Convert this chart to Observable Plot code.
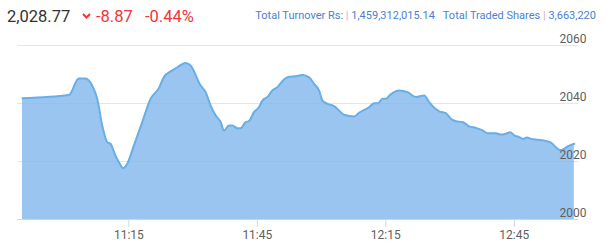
<!DOCTYPE html>
<html>
<head>
<meta charset="utf-8">
<script src="https://cdn.jsdelivr.net/npm/d3@7"></script>
<script src="https://cdn.jsdelivr.net/npm/@observablehq/plot@0.6"></script>
<style>
  html, body { margin: 0; padding: 0; background: #fff; }
  body { width: 609px; height: 249px; overflow: hidden; font-family: Roboto, "Open Sans", sans-serif; }
  #header { position: relative; height: 30px; width: 609px; }
  #header span, #header svg { position: absolute; white-space: pre; line-height: 1; }
  .price { left: 7px; top: 9px; font-size: 16.5px; color: #333; }
  .chg { top: 9px; font-size: 16.5px; color: #f0353c; }
  .stats { right: 13px; top: 10px; font-size: 11px; color: #4a7fd4; }
  .pipe { position: static !important; color: #e6a3c0; }
  #chart svg { display: block; }
</style>
</head>
<body>
<div id="header">
  <span class="price" id="price"></span>
  <svg width="9" height="6" style="left:82px;top:13px" viewBox="0 0 9 6"><polyline points="1,1 4.5,4.5 8,1" fill="none" stroke="#f0353c" stroke-width="2"/></svg>
  <span class="chg" id="chg" style="left:96px"></span>
  <span class="chg" id="pct" style="left:145px"></span>
  <span class="stats" id="stats"></span>
</div>
<div id="chart"></div>
<script>
// Header values
const lastPrice = "2,028.77";
const change = "-8.87";
const changePct = "-0.44%";
const turnoverLabel = "Total Turnover Rs:";
const turnoverValue = "1,459,312,015.14";
const sharesLabel = "Total Traded Shares";
const sharesValue = "3,663,220";

// Series: time of day and index value
const times = [
  "10:50:10","11:01:00","11:03:19","11:04:53","11:06:26","11:07:37","11:08:47","11:09:57","11:10:43","11:11:53",
  "11:12:40","11:13:41","11:14:38","11:16:10","11:18:08","11:20:04","11:22:01","11:23:11","11:25:09","11:26:19",
  "11:28:15","11:29:25","11:31:46","11:32:56","11:34:06","11:35:16","11:36:26","11:37:13","11:38:23","11:39:10",
  "11:40:20","11:41:07","11:42:17","11:43:03","11:44:13","11:45:23","11:46:11","11:47:21","11:48:31","11:49:41",
  "11:51:14","11:52:24","11:53:58","11:55:32","11:57:05","11:58:15","11:59:25","12:00:13","12:01:23","12:02:55",
  "12:04:05","12:05:15","12:07:36","12:08:46","12:11:06","12:12:16","12:13:12","12:14:14","12:15:00","12:16:01",
  "12:18:07","12:20:05","12:22:01","12:23:58","12:25:08","12:26:18","12:27:28","12:29:02","12:30:12","12:31:22",
  "12:32:56","12:34:29","12:36:02","12:37:37","12:38:47","12:40:43","12:41:53","12:43:04","12:44:04","12:45:00",
  "12:46:10","12:47:06","12:47:58","12:48:54","12:50:28","12:52:01","12:53:34","12:54:44","12:55:41","12:56:19",
  "12:57:29","12:59:01"
];
const values = [
  2041.8,2042.9,2048.6,2048.6,2046.2,2041.6,2032.4,2026.7,2026.1,2022.0,
  2019.8,2017.7,2019.2,2025.5,2033.6,2041.6,2045.3,2049.1,2051.4,2052.5,
  2054.0,2053.1,2046.2,2043.9,2039.3,2035.9,2033.6,2030.7,2032.4,2032.4,
  2031.5,2031.5,2033.6,2033.9,2037.0,2038.7,2041.0,2042.2,2044.5,2045.6,
  2048.3,2049.2,2049.4,2049.8,2049.0,2046.8,2044.5,2041.0,2039.9,2039.1,
  2037.6,2036.1,2035.5,2036.8,2038.7,2040.1,2040.1,2041.6,2041.6,2043.0,
  2044.5,2043.9,2042.2,2042.8,2040.5,2038.5,2037.3,2036.7,2034.7,2033.9,
  2033.6,2032.1,2031.6,2030.7,2029.7,2029.7,2029.3,2029.6,2030.1,2029.0,
  2028.4,2027.8,2028.3,2027.8,2027.5,2027.2,2026.5,2024.9,2024.0,2024.1,
  2025.2,2026.1
];
const xDomain = ["10:49", "13:00"];
const xTicks = ["11:15", "11:45", "12:15", "12:45"];
const yTicks = [2000, 2020, 2040, 2060];

const toDate = t => new Date(`2024-01-01T${t.length === 5 ? t + ":00" : t}Z`);
const data = times.map((t, i) => ({time: toDate(t), value: values[i]}));
const xEnd = toDate(xDomain[1]);

document.getElementById("price").textContent = lastPrice;
document.getElementById("chg").textContent = change;
document.getElementById("pct").textContent = changePct;
const stats = document.getElementById("stats");
const add = (txt, cls) => { const s = document.createElement("span"); s.textContent = txt; if (cls) s.className = cls; s.style.position = "static"; stats.appendChild(s); };
add(turnoverLabel + " ");
add("|", "pipe");
add(" " + turnoverValue + "   " + sharesLabel + " ");
add("|", "pipe");
add(" " + sharesValue);

const chart = Plot.plot({
  width: 609,
  height: 219,
  marginTop: 15,
  marginBottom: 30,
  marginLeft: 17,
  marginRight: 31,
  style: {fontFamily: "Roboto, sans-serif", fontSize: "12px", color: "#606060", background: "#fff"},
  x: {type: "utc", domain: xDomain.map(toDate)},
  y: {domain: [2000, 2060], axis: null},
  marks: [
    Plot.ruleY(yTicks.filter(d => d > 2000), {stroke: "#e6e6e6", strokeWidth: 1, strokeOpacity: 1}),
    Plot.areaY(data, {x: "time", y1: 2000, y2: "value", fill: "#7cb5ec", fillOpacity: 0.78, curve: "monotone-x"}),
    Plot.lineY(data, {x: "time", y: "value", stroke: "#6aaee6", strokeWidth: 2, curve: "monotone-x"}),
    Plot.ruleY([2000], {stroke: "#ccd6eb", strokeWidth: 1}),
    Plot.axisX(xTicks.map(toDate), {tickSize: 8, tickPadding: 3, stroke: "#ccd6eb", strokeOpacity: 1, tickFormat: d3.utcFormat("%H:%M"), fill: "#606060", fontSize: 12, label: null}),
    Plot.text(yTicks, {x: () => xEnd, y: d => d, text: d => String(d), textAnchor: "end", dx: 8, dy: -6, fill: "#606060", fontSize: 12})
  ]
});
document.getElementById("chart").appendChild(chart);
</script>
</body>
</html>
